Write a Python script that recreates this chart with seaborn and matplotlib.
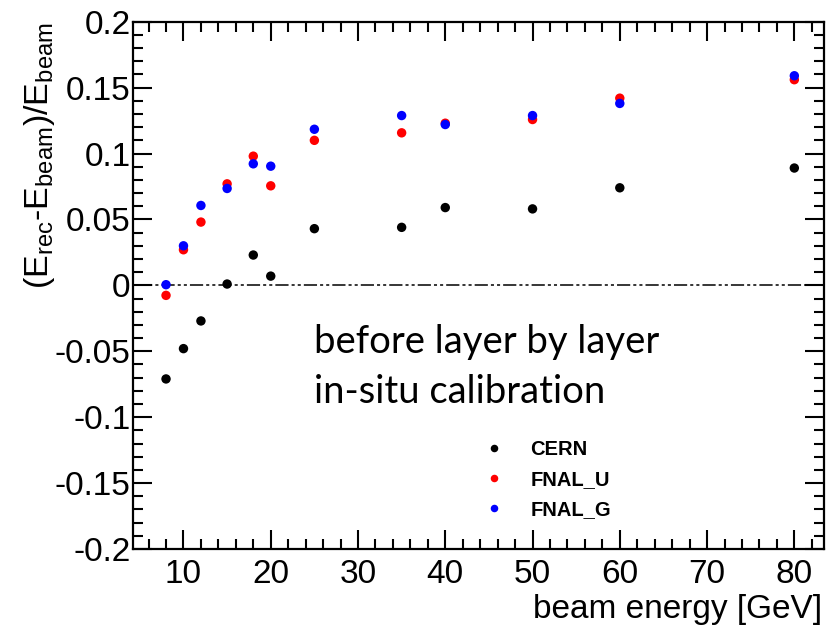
import matplotlib
matplotlib.use("Agg")
import matplotlib.pyplot as plt
import seaborn as sns
import pandas as pd

# Beam energies [GeV] and relative energy response per test-beam sample
energy = [8, 10, 12, 15, 18, 20, 25, 35, 40, 50, 60, 80]
cern = [-0.071, -0.048, -0.027, 0.001, 0.023, 0.007, 0.043, 0.044, 0.059, 0.058, 0.074, 0.089]
fnal_u = [-0.0076, 0.027, 0.048, 0.077, 0.098, 0.0755, 0.110, 0.1157, 0.123, 0.1258, 0.142, 0.156]
fnal_g = [0.0005, 0.030, 0.0606, 0.0735, 0.0922, 0.0904, 0.1184, 0.1288, 0.122, 0.1288, 0.138, 0.159]

series_names = ["CERN", "FNAL_U", "FNAL_G"]
series_colors = ["#000000", "#ff0000", "#0000ff"]

x_ticks = [10, 20, 30, 40, 50, 60, 70, 80]
x_tick_labels = ["10", "20", "30", "40", "50", "60", "70", "80"]
y_ticks = [-0.2, -0.15, -0.1, -0.05, 0, 0.05, 0.1, 0.15, 0.2]
y_tick_labels = ["-0.2", "-0.15", "-0.1", "-0.05", "0", "0.05", "0.1", "0.15", "0.2"]

note_lines = ["before layer by layer", "in-situ calibration"]

df = pd.concat([
    pd.DataFrame({"energy": energy, "response": vals, "sample": name})
    for name, vals in zip(series_names, [cern, fnal_u, fnal_g])
], ignore_index=True)

sns.set_theme(style="ticks")
plt.rcParams["font.family"] = ["Liberation Sans", "DejaVu Sans"]
plt.rcParams["text.color"] = "black"
plt.rcParams["mathtext.fontset"] = "custom"
plt.rcParams["mathtext.rm"] = "Liberation Sans"
plt.rcParams["mathtext.it"] = "Liberation Sans"
plt.rcParams["mathtext.bf"] = "Liberation Sans:bold"
plt.rcParams["mathtext.default"] = "regular"
plt.rcParams["axes.unicode_minus"] = False
plt.rcParams["lines.scale_dashes"] = False

W, H = 827, 628
fig = plt.figure(figsize=(W / 100, H / 100), dpi=100)
fig.patch.set_facecolor("white")
ax = fig.add_axes([133.3 / W, 1 - 549 / H, (824 - 133.3) / W, (549 - 21.7) / H])

# zero reference line (dash-dot-dot)
ax.axhline(0, color="black", lw=1.1, ls=(0, (9.5, 2.2, 2.2, 2.2, 2.2, 2.2)), zorder=1)

sns.scatterplot(data=df, x="energy", y="response", hue="sample",
                hue_order=series_names, palette=series_colors,
                s=46, linewidth=0, edgecolor="none", ax=ax, zorder=3)

ax.set_xlim(4.25, 83.4)
ax.set_ylim(-0.2, 0.2)

ax.set_xticks(x_ticks)
ax.set_xticklabels(x_tick_labels)
ax.set_yticks(y_ticks)
ax.set_yticklabels(y_tick_labels)
ax.set_xticks([v for v in range(6, 84, 2) if v % 10], minor=True)
ax.set_yticks([i / 100 for i in range(-20, 21) if i % 5], minor=True)

ax.tick_params(which="both", direction="in", top=True, right=True, width=1.5, color="black")
ax.tick_params(which="major", length=13.5, labelsize=24, colors="black")
ax.tick_params(which="minor", length=7.2)
ax.tick_params(axis="x", which="major", pad=7)
ax.tick_params(axis="y", which="major", pad=2)
for sp in ax.spines.values():
    sp.set_linewidth(1.6)
    sp.set_color("black")

ax.set_xlabel("")
ax.set_ylabel("")
fig.text(822 / W, 1 - 618 / H, "beam energy [GeV]", ha="right", va="baseline",
         fontsize=24, color="black")
fig.text(40 / W, 1 - 22 / H, "(E$_{rec}$-E$_{beam}$)/E$_{beam}$", rotation=90,
         ha="center", va="top", fontsize=24.5, color="black")

# two-line note inside the frame
for line, base in zip(note_lines, [353, 403]):
    fig.text(314 / W, 1 - base / H, line, ha="left", va="baseline", fontsize=27.5,
             family=["Lato", "DejaVu Sans"], color="black")

handles, labels = ax.get_legend_handles_labels()
ax.legend(handles, labels, loc="upper left",
          bbox_to_anchor=(484 / W, 1 - 440 / H), bbox_transform=fig.transFigure,
          frameon=False, borderpad=0, borderaxespad=0, handlelength=1.0,
          handletextpad=1.3, labelspacing=0.55, markerscale=0.8,
          labelcolor="black",
          prop={"family": "Liberation Sans", "weight": "bold", "size": 14.5})

fig.savefig("out.png", dpi=100)
